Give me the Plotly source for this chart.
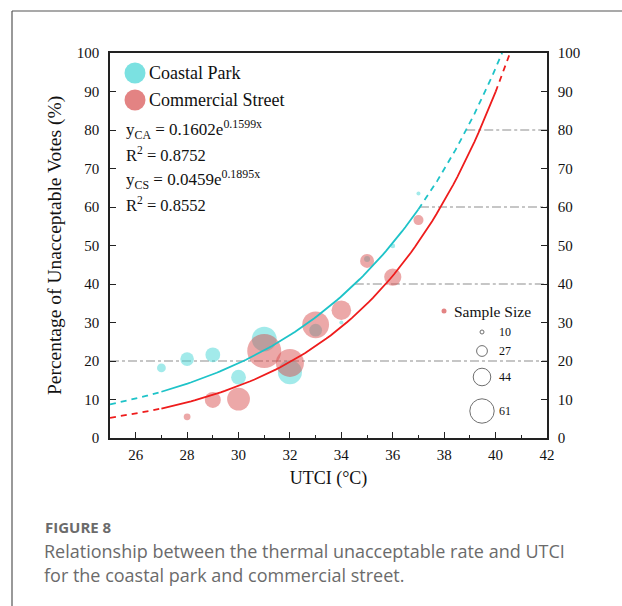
import numpy as np
import plotly.graph_objects as go

# ---- data ----
utci_ca = [27, 28, 29, 30, 31, 32, 33, 34, 35, 36, 37]
rate_ca = [18.2, 20.5, 21.6, 15.8, 25.7, 17.1, 28.0, 30.0, 46.5, 49.9, 63.5]
n_ca = [22, 34, 37, 37, 62, 60, 32, 10, 15, 12, 10]

utci_cs = [28, 29, 30, 31, 32, 33, 34, 35, 36, 37]
rate_cs = [5.5, 9.9, 10.1, 22.6, 19.5, 29.4, 33.2, 46.0, 41.8, 56.6]
n_cs = [17, 40, 57, 85, 70, 67, 49, 35, 43, 25]

# exponential fits y = a * exp(b * x)
fit_ca = (0.1602, 0.1599, 0.8752)
fit_cs = (0.0459, 0.1895, 0.8552)

legend_sizes = [10, 27, 44, 61]
threshold_levels = [20, 40, 60, 80]

# ---- styling ----
CYAN_FILL = "rgba(72, 214, 214, 0.72)"
RED_FILL = "rgba(214, 72, 72, 0.68)"
CYAN_LINE = "#1ec3c8"
RED_LINE = "#ee1c1c"
SERIF = "Liberation Serif, Times New Roman, serif"
SANS = "Open Sans, Lato, sans-serif"
PX_PER_N = 0.4  # marker diameter per respondent

X0, X1 = 25, 42
L, R, T, B = 110, 75, 53, 168
W, H = 622, 606
PW, PH = W - L - R, H - T - B


def px_x(px):
    return (px - L) / PW


def px_y(py):
    return (H - B - py) / PH


def fit(a, b, x):
    return a * np.exp(b * np.asarray(x))


def x_at(a, b, y):
    return np.log(y / a) / b


fig = go.Figure()

# threshold guide lines starting where the coastal-park fit reaches each level
for lvl in threshold_levels:
    xs = X0 if lvl == 20 else float(x_at(fit_ca[0], fit_ca[1], lvl))
    fig.add_trace(go.Scatter(x=[xs, X1], y=[lvl, lvl], mode="lines",
                             line=dict(color="#b4b4b4", width=1.3, dash="dashdot"),
                             hoverinfo="skip", showlegend=False))

# bubbles
fig.add_trace(go.Scatter(x=utci_ca, y=rate_ca, mode="markers",
                         marker=dict(size=[n * PX_PER_N for n in n_ca], sizemode="diameter",
                                     color=CYAN_FILL, line=dict(width=0)),
                         showlegend=False))
fig.add_trace(go.Scatter(x=utci_cs, y=rate_cs, mode="markers",
                         marker=dict(size=[n * PX_PER_N for n in n_cs], sizemode="diameter",
                                     color=RED_FILL, line=dict(width=0)),
                         showlegend=False))


def add_fit(params, color, solid_from, solid_to):
    a, b, _ = params
    x_end = float(x_at(a, b, 100))
    segs = [(X0, solid_from, "dash"), (solid_from, solid_to, "solid"), (solid_to, x_end, "dash")]
    for s, e, d in segs:
        xx = np.linspace(s, e, 80)
        fig.add_trace(go.Scatter(x=xx, y=fit(a, b, xx), mode="lines",
                                 line=dict(color=color, width=1.8, dash=d if d == "solid" else "6px,5px"),
                                 hoverinfo="skip", showlegend=False))


add_fit(fit_ca, CYAN_LINE, 27, 37)
add_fit(fit_cs, RED_LINE, 27, 40)

# right-hand duplicate axis for labels
fig.add_trace(go.Scatter(x=[None], y=[None], yaxis="y2", showlegend=False))

# sample-size key, drawn on an overlay axis spanning the plot area
key_x = px_x(482)
key_y = [px_y(v) for v in (332, 351, 377, 411)]
fig.add_trace(go.Scatter(x=[key_x] * len(legend_sizes), y=key_y, mode="markers",
                         xaxis="x3", yaxis="y3",
                         marker=dict(size=[n * PX_PER_N for n in legend_sizes], sizemode="diameter",
                                     color="rgba(0,0,0,0)", line=dict(color="#333", width=1)),
                         hoverinfo="skip", showlegend=False))
fig.add_trace(go.Scatter(x=[px_x(444)], y=[px_y(311)], mode="markers", xaxis="x3", yaxis="y3",
                         marker=dict(size=5, color=RED_FILL), hoverinfo="skip", showlegend=False))
# series key markers
fig.add_trace(go.Scatter(x=[px_x(135), px_x(135)], y=[px_y(73), px_y(100)], mode="markers",
                         xaxis="x3", yaxis="y3",
                         marker=dict(size=21, color=[CYAN_FILL, RED_FILL]),
                         hoverinfo="skip", showlegend=False))

ann = []
ann.append(dict(x=px_x(147), y=px_y(73), text="Coastal Park", font=dict(size=18)))
ann.append(dict(x=px_x(147), y=px_y(100), text="Commercial Street", font=dict(size=18)))
ann.append(dict(x=px_x(124), y=px_y(129),
                text=f"y<sub>CA</sub> = {fit_ca[0]:.4f}e<sup>{fit_ca[1]:.4f}x</sup>", font=dict(size=17)))
ann.append(dict(x=px_x(124), y=px_y(154), text=f"R<sup>2</sup> = {fit_ca[2]:.4f}", font=dict(size=16.5)))
ann.append(dict(x=px_x(124), y=px_y(179),
                text=f"y<sub>CS</sub> = {fit_cs[0]:.4f}e<sup>{fit_cs[1]:.4f}x</sup>", font=dict(size=17)))
ann.append(dict(x=px_x(124), y=px_y(204), text=f"R<sup>2</sup> = {fit_cs[2]:.4f}", font=dict(size=16.5)))
ann.append(dict(x=px_x(452), y=px_y(311), text="Sample Size", font=dict(size=15.5)))
for n, yy in zip(legend_sizes, key_y):
    ann.append(dict(x=px_x(497), y=yy, text=str(n), font=dict(size=12)))
for a in ann:
    a.update(xref="paper", yref="paper", xanchor="left", yanchor="middle", showarrow=False)
    a["font"].update(family=SERIF, color="#111")

# caption
ann.append(dict(x=px_x(43), y=px_y(527), xref="paper", yref="paper", xanchor="left", yanchor="middle",
                showarrow=False, text="<b>FIGURE 8</b>", font=dict(family=SANS, size=15, color="#6b6b6b")))
ann.append(dict(x=px_x(42), y=px_y(551), xref="paper", yref="paper", xanchor="left", yanchor="middle",
                showarrow=False, text="Relationship between the thermal unacceptable rate and UTCI",
                font=dict(family=SANS, size=18, color="#6b6b6b")))
ann.append(dict(x=px_x(42), y=px_y(575), xref="paper", yref="paper", xanchor="left", yanchor="middle",
                showarrow=False, text="for the coastal park and commercial street.",
                font=dict(family=SANS, size=18, color="#6b6b6b")))

# outer frame (left and top edges)
shapes = [
    dict(type="line", xref="paper", yref="paper", x0=px_x(12), x1=px_x(12), y0=px_y(11), y1=px_y(606),
         line=dict(color="#555", width=1.2)),
    dict(type="line", xref="paper", yref="paper", x0=px_x(12), x1=px_x(622), y0=px_y(11), y1=px_y(11),
         line=dict(color="#555", width=1.2)),
]

axis_font = dict(family=SERIF, size=15, color="#111")
fig.update_layout(
    width=W, height=H,
    margin=dict(l=L, r=R, t=T, b=B, pad=0),
    paper_bgcolor="white", plot_bgcolor="white",
    showlegend=False,
    annotations=ann, shapes=shapes,
    xaxis=dict(range=[X0, X1], tick0=26, dtick=2, ticks="inside", ticklen=6, tickwidth=1.3,
               tickcolor="#222", showline=True, linecolor="#222", linewidth=1.5, mirror=True,
               showgrid=False, zeroline=False, tickfont=axis_font, ticklabelstandoff=2,
               minor=dict(ticks="inside", ticklen=3, tickwidth=1.2, tickcolor="#222", dtick=1, tick0=25),
               title=dict(text="UTCI (°C)", font=dict(family=SERIF, size=18, color="#111"), standoff=10)),
    yaxis=dict(range=[0, 100], dtick=10, ticks="inside", ticklen=6, tickwidth=1.3, tickcolor="#222",
               showline=True, linecolor="#222", linewidth=1.5, showgrid=False, zeroline=False,
               tickfont=axis_font, ticklabelstandoff=6,
               title=dict(text="Percentage of Unacceptable Votes (%)",
                          font=dict(family=SERIF, size=19.5, color="#111"), standoff=10)),
    yaxis2=dict(range=[0, 100], dtick=10, overlaying="y", side="right", ticks="inside", ticklen=6,
                tickwidth=1.3, tickcolor="#222", showline=True, linecolor="#222", linewidth=1.5,
                showgrid=False, zeroline=False, tickfont=axis_font, ticklabelstandoff=6),
    xaxis3=dict(range=[0, 1], overlaying="x", visible=False, fixedrange=True),
    yaxis3=dict(range=[0, 1], overlaying="y", visible=False, fixedrange=True),
)

fig.write_html("out.html")
